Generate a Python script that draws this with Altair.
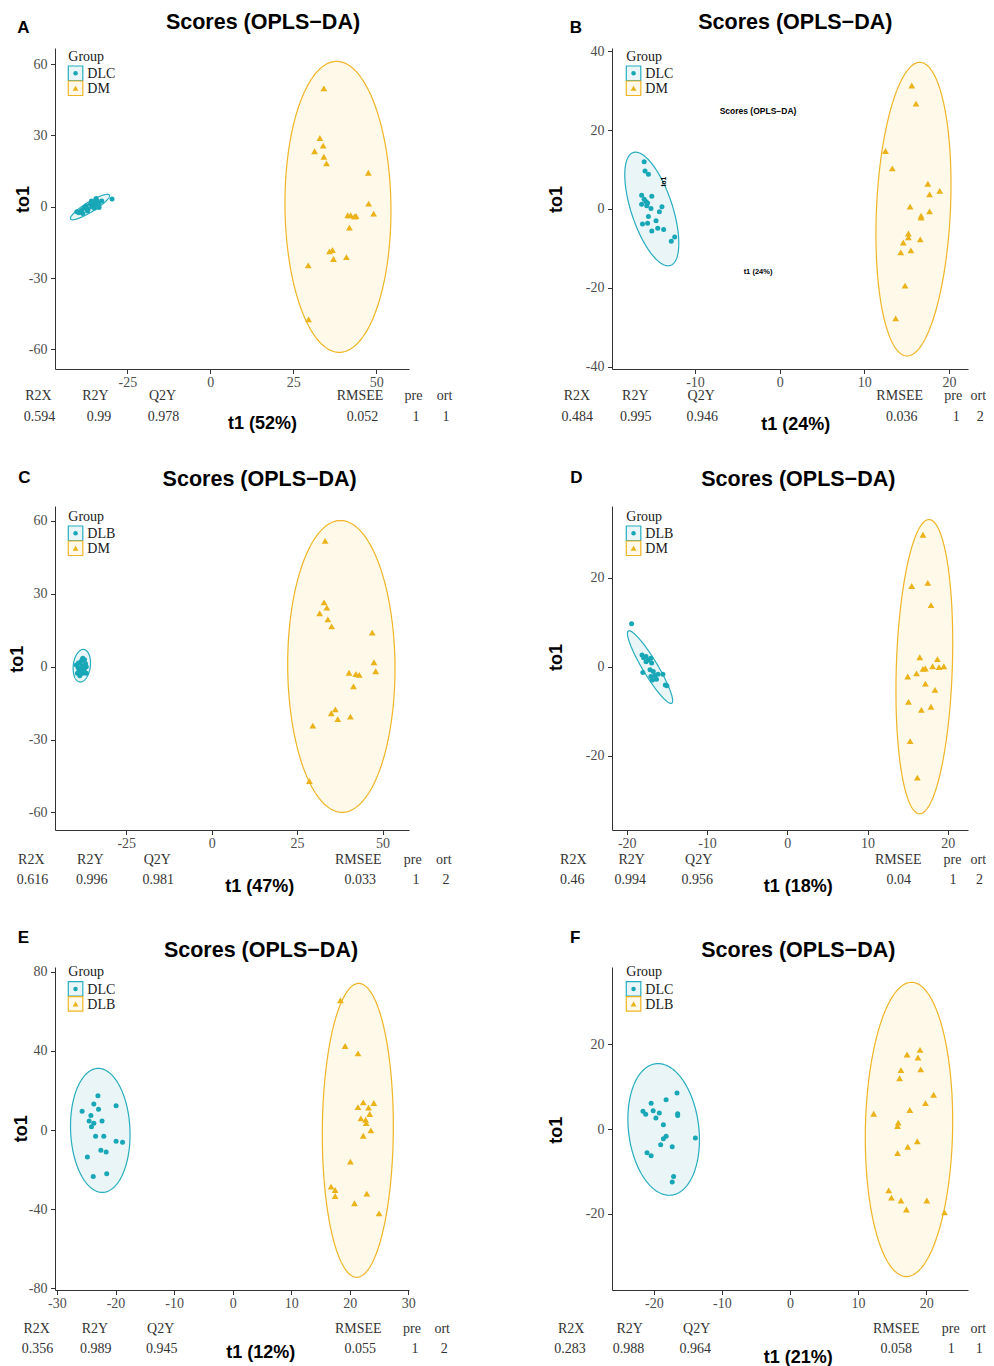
import numpy as np
import pandas as pd
import altair as alt

# ---------------------------------------------------------------- data
STAT_NAMES = ["R2X", "R2Y", "Q2Y", "RMSEE", "pre", "ort"]

# Panel A : DLC vs DM
A_GROUPS = ["DLC", "DM"]
A_G1_X = [-40.2, -39.6, -38.8, -38.4, -38.1, -37.4, -36.8, -36.1, -35.6, -35.1,
          -34.6, -34.4, -34.1, -33.5, -33.6, -32.7, -35.8, -34.9, -29.6, -37.0]
A_G1_Y = [-2.1, -2.6, -1.6, -2.9, -0.7, 0.4, -1.0, 1.0, 0.0, 1.8,
          0.7, 3.4, 2.5, -0.3, 1.4, 2.4, 2.4, -0.7, 3.2, -1.8]
A_G2_X = [34.2, 33.0, 34.0, 31.4, 34.2, 35.0, 47.6, 47.7, 49.2, 41.4,
          42.3, 43.4, 43.9, 41.9, 36.8, 35.9, 37.1, 41.0, 29.5, 29.6]
A_G2_Y = [49.8, 28.9, 25.7, 23.3, 21.0, 18.2, 14.3, 1.3, -2.9, -3.6,
          -3.6, -4.2, -3.9, -8.8, -18.2, -18.8, -22.0, -21.2, -24.7, -47.4]
A_STATS = ["0.594", "0.99", "0.978", "0.052", "1", "1"]
A_T1 = "t1 (52%)"
A_XTICKS = [-25, 0, 25, 50]
A_YTICKS = [-60, -30, 0, 30, 60]
A_XDOM = [-46.78, 59.85]
A_YDOM = [-68.28, 66.76]
A_ELL1 = [(-36.25, -0.15), (5.85, 5.05), (0.79, -1.79)]
A_ELL2 = [(38.45, -0.07), (-0.4, 61.2), (15.96, 0.0)]

# Panel B : DLC vs DM
B_GROUPS = ["DLC", "DM"]
B_G1_X = [-16.0, -15.9, -15.5, -16.3, -16.0, -15.8, -15.6, -16.3, -15.7, -15.2, -15.1,
          -13.9, -14.2, -15.5, -14.6, -16.2, -15.6, -15.1, -14.4, -13.7, -12.8, -12.4]
B_G1_Y = [12.0, 9.6, 8.8, 3.5, 2.5, 1.9, 1.5, 1.2, 0.8, 0.1, 3.2,
          0.6, -0.7, -1.9, -3.0, -3.8, -3.6, -5.6, -4.9, -5.2, -8.2, -7.1]
B_G2_X = [15.6, 16.1, 12.5, 13.3, 17.5, 18.9, 17.7, 15.4, 17.7, 16.7,
          16.7, 15.2, 15.2, 14.6, 16.6, 15.5, 14.3, 14.8, 13.7]
B_G2_Y = [31.3, 26.7, 14.7, 10.3, 6.4, 4.6, 3.7, 0.6, -0.6, -1.7,
          -2.2, -6.2, -7.2, -8.5, -7.7, -10.5, -11.0, -19.4, -27.7]
B_STATS = ["0.484", "0.995", "0.946", "0.036", "1", "2"]
B_T1 = "t1 (24%)"
B_XTICKS = [-10, 0, 10, 20]
B_YTICKS = [-40, -20, 0, 20, 40]
B_XDOM = [-19.80, 22.24]
B_YDOM = [-40.54, 40.79]
B_ELL1 = [(-15.1, 0.0), (-2.2, 14.3), (2.31, 1.65)]
B_ELL2 = [(15.8, -0.04), (0.75, 37.2), (4.37, 0.0)]

# Panel C : DLB vs DM
C_GROUPS = ["DLB", "DM"]
C_G1_X = [-37.7, -38.2, -37.2, -37.9, -39.1, -38.3, -37.2, -36.7, -37.7, -39.3,
          -38.6, -36.7, -39.6, -38.0, -38.8, -37.4, -39.0, -36.9, -38.4, -37.8]
C_G1_Y = [3.5, 2.1, 2.8, 3.0, -0.4, -0.9, -0.7, 0.0, -2.7, -2.7,
          -3.7, -2.7, 0.7, 0.4, -1.8, -1.6, 1.5, 1.2, -3.0, -0.2]
C_G2_X = [33.2, 32.9, 33.7, 31.6, 34.0, 35.1, 47.0, 47.5, 48.0, 40.2,
          42.2, 43.2, 41.5, 36.2, 35.0, 36.9, 40.6, 29.6, 28.6]
C_G2_Y = [51.8, 26.5, 24.3, 22.0, 19.5, 16.6, 14.0, 1.8, -1.9, -2.5,
          -3.0, -3.4, -8.1, -17.6, -19.2, -21.6, -20.6, -24.3, -47.1]
C_STATS = ["0.616", "0.996", "0.981", "0.033", "1", "2"]
C_T1 = "t1 (47%)"
C_XTICKS = [-25, 0, 25, 50]
C_YTICKS = [-60, -30, 0, 30, 60]
C_XDOM = [-45.85, 57.75]
C_YDOM = [-67.27, 66.17]
C_ELL1 = [(-38.0, 0.4), (0.5, 6.7), (2.5, -0.2)]
C_ELL2 = [(37.95, 0.1), (-0.25, 60.1), (15.7, 0.0)]

# Panel D : DLB vs DM
D_GROUPS = ["DLB", "DM"]
D_G1_X = [-19.4, -18.1, -17.9, -17.6, -17.3, -17.0, -17.6, -16.9, -18.0, -17.1,
          -16.7, -17.0, -16.5, -16.1, -15.5, -16.3, -15.2, -15.0, -16.8]
D_G1_Y = [9.6, 2.6, 2.0, 2.3, 1.5, 1.9, 1.1, 0.8, -1.3, -0.7,
          -1.1, -2.2, -2.0, -1.7, -1.7, -2.8, -4.1, -4.3, -3.0]
D_G2_X = [16.9, 15.5, 17.5, 17.9, 16.5, 18.7, 19.5, 18.1, 18.9, 16.9,
          17.2, 16.1, 15.0, 17.2, 18.4, 15.1, 16.7, 17.9, 15.3, 16.2]
D_G2_Y = [29.6, 18.1, 18.8, 13.8, 2.1, 1.7, 0.1, 0.1, -0.1, -0.5,
          -0.4, -1.5, -2.2, -3.8, -5.2, -7.9, -9.7, -9.0, -16.7, -24.9]
D_STATS = ["0.46", "0.994", "0.956", "0.04", "1", "2"]
D_T1 = "t1 (18%)"
D_XTICKS = [-20, -10, 0, 10, 20]
D_YTICKS = [-20, 0, 20]
D_XDOM = [-21.84, 22.51]
D_YDOM = [-36.64, 36.04]
D_ELL1 = [(-17.1, -0.1), (-2.7, 8.1), (0.80, 0.87)]
D_ELL2 = [(17.07, 0.0), (0.58, 33.0), (3.49, 0.0)]

# Panel E : DLC vs DLB
E_GROUPS = ["DLC", "DLB"]
E_G1_X = [-23.0, -23.7, -19.9, -22.9, -25.7, -24.2, -24.5, -23.7, -22.3, -24.1,
          -23.4, -22.0, -19.9, -18.8, -22.5, -21.6, -24.8, -23.8, -21.5]
E_G1_Y = [17.4, 13.2, 12.3, 10.5, 9.5, 7.3, 4.6, 3.4, 4.6, 1.7,
          -3.2, -3.2, -5.7, -6.2, -10.3, -11.1, -13.7, -23.6, -22.1]
E_G2_X = [18.4, 19.2, 21.4, 22.3, 24.1, 21.4, 23.2, 23.4, 21.9, 22.7,
          22.8, 23.6, 22.3, 20.1, 16.8, 17.5, 17.5, 22.9, 20.8, 25.0]
E_G2_Y = [65.7, 42.5, 38.8, 14.0, 13.7, 11.6, 11.3, 8.1, 5.9, 5.2,
          3.5, -0.2, -2.9, -16.0, -28.7, -30.4, -33.4, -32.2, -37.1, -42.2]
E_STATS = ["0.356", "0.989", "0.945", "0.055", "1", "2"]
E_T1 = "t1 (12%)"
E_XTICKS = [-30, -20, -10, 0, 10, 20, 30]
E_YTICKS = [-80, -40, 0, 40, 80]
E_XDOM = [-30.33, 30.11]
E_YDOM = [-81.01, 82.53]
E_ELL1 = [(-22.6, -0.2), (-0.34, 31.4), (5.07, 0.0)]
E_ELL2 = [(21.37, -0.17), (0.17, 74.4), (6.06, 0.0)]

# Panel F : DLC vs DLB
F_GROUPS = ["DLC", "DLB"]
F_G1_X = [-16.6, -18.2, -20.4, -21.6, -21.2, -20.1, -19.2, -19.7, -16.5, -16.5,
          -18.6, -18.2, -18.6, -19.0, -17.3, -13.9, -21.0, -20.4, -17.1, -17.3]
F_G1_Y = [8.5, 6.9, 6.1, 4.2, 3.5, 4.3, 3.8, 2.6, 3.6, 3.2,
          1.0, -1.7, -2.3, -3.7, -4.2, -2.1, -5.6, -6.3, -11.2, -12.5]
F_G2_X = [12.3, 17.2, 19.1, 18.8, 19.2, 16.3, 16.1, 21.1, 19.9, 17.6, 15.9,
          15.8, 18.7, 17.3, 15.8, 14.5, 14.9, 16.3, 20.1, 17.1, 22.7]
F_G2_Y = [3.6, 17.6, 18.7, 16.9, 14.1, 13.9, 12.0, 8.1, 6.1, 4.5, 1.5,
          0.7, -2.9, -4.2, -5.7, -14.5, -16.2, -16.9, -16.9, -19.0, -19.7]
F_STATS = ["0.283", "0.988", "0.964", "0.058", "1", "1"]
F_T1 = "t1 (21%)"
F_XTICKS = [-20, -10, 0, 10, 20]
F_YTICKS = [-20, 0, 20]
F_XDOM = [-26.15, 26.15]
F_YDOM = [-38.03, 38.27]
F_ELL1 = [(-18.56, -0.1), (-0.83, 15.55), (5.19, 0.0)]
F_ELL2 = [(17.48, -0.1), (0.37, 34.76), (6.41, 0.0)]

# ---------------------------------------------------------------- style
TEAL = "#17A7B7"
GOLD = "#EBB21A"
TEAL_LINE = "#26ADBE"
GOLD_LINE = "#F0B526"
TEAL_FILL = "#E9F5F7"
GOLD_FILL = "#FEF9E8"
SERIF = "Liberation Serif"
SANS = "Liberation Sans"
INK = "#1a1a1a"

ONE = pd.DataFrame({"k": [0]})

COL_W = [354, 356]
ROW_H = [321, 324, 323]
LEFT0, TOP0 = 55, 48
COL_GAP, ROW_GAP = 203, 137

PANELS = [
    dict(groups=A_GROUPS, g1=(A_G1_X, A_G1_Y), g2=(A_G2_X, A_G2_Y), stats=A_STATS, t1=A_T1,
         xt=A_XTICKS, yt=A_YTICKS, xd=A_XDOM, yd=A_YDOM, e1=A_ELL1, e2=A_ELL2,
         letter="A", pl=(23.5, 33), title=(263, 29.3),
         to1=(29, 199.5), t1pos=(262.5, 429.3), leg=(68.3, 66), lab_y=400, val_y=420.5,
         lab_x=[38.5, 95.5, 162.5, 360, 413.5, 444.5], val_x=[39.5, 99, 163.5, 362.5, 416, 446]),
    dict(groups=B_GROUPS, g1=(B_G1_X, B_G1_Y), g2=(B_G2_X, B_G2_Y), stats=B_STATS, t1=B_T1,
         xt=B_XTICKS, yt=B_YTICKS, xd=B_XDOM, yd=B_YDOM, e1=B_ELL1, e2=B_ELL2,
         letter="B", pl=(576, 33), title=(795.3, 29.3),
         to1=(562, 199.5), t1pos=(795.8, 430), leg=(626.3, 66), lab_y=400, val_y=420.5,
         lab_x=[577, 635.3, 701.2, 899.7, 953.3, 978.3], val_x=[577.2, 635.7, 702.2, 901.7, 956.3, 980.3]),
    dict(groups=C_GROUPS, g1=(C_G1_X, C_G1_Y), g2=(C_G2_X, C_G2_Y), stats=C_STATS, t1=C_T1,
         xt=C_XTICKS, yt=C_YTICKS, xd=C_XDOM, yd=C_YDOM, e1=C_ELL1, e2=C_ELL2,
         letter="C", pl=(24.5, 482.7), title=(259.7, 485.7),
         to1=(23.0, 659.2), t1pos=(259.7, 892.3), leg=(68.3, 526), lab_y=864.3, val_y=884.3,
         lab_x=[31.3, 90.3, 157.3, 358.3, 412.8, 443.8], val_x=[32.5, 91.7, 158.3, 360.2, 416, 446]),
    dict(groups=D_GROUPS, g1=(D_G1_X, D_G1_Y), g2=(D_G2_X, D_G2_Y), stats=D_STATS, t1=D_T1,
         xt=D_XTICKS, yt=D_YTICKS, xd=D_XDOM, yd=D_YDOM, e1=D_ELL1, e2=D_ELL2,
         letter="D", pl=(576.5, 482.7), title=(798.3, 485.7),
         to1=(562, 657.5), t1pos=(798.2, 892.3), leg=(626.3, 526), lab_y=864.3, val_y=884.3,
         lab_x=[573.3, 631.7, 698.7, 898.3, 952.5, 978.3], val_x=[572.3, 630.3, 697.2, 898.7, 953, 979.5]),
    dict(groups=E_GROUPS, g1=(E_G1_X, E_G1_Y), g2=(E_G2_X, E_G2_Y), stats=E_STATS, t1=E_T1,
         xt=E_XTICKS, yt=E_YTICKS, xd=E_XDOM, yd=E_YDOM, e1=E_ELL1, e2=E_ELL2,
         letter="E", pl=(23.3, 943.3), title=(261, 957.3),
         to1=(27.3, 1128.7), t1pos=(260.8, 1357.7), leg=(68.3, 981.7), lab_y=1332.7, val_y=1352.7,
         lab_x=[36.7, 95, 160.7, 358.3, 412, 442.2], val_x=[37.5, 95.8, 161.7, 360.2, 415, 444.3]),
    dict(groups=F_GROUPS, g1=(F_G1_X, F_G1_Y), g2=(F_G2_X, F_G2_Y), stats=F_STATS, t1=F_T1,
         xt=F_XTICKS, yt=F_YTICKS, xd=F_XDOM, yd=F_YDOM, e1=F_ELL1, e2=F_ELL2,
         letter="F", pl=(575.3, 943.3), title=(798.3, 957.3),
         to1=(562, 1130.3), t1pos=(798.2, 1362.7), leg=(626.3, 981.7), lab_y=1332.7, val_y=1352.7,
         lab_x=[571.2, 629.7, 696.7, 896.3, 950.8, 978.3], val_x=[570, 628.5, 695.3, 896.2, 951.3, 979.3]),
]

LABEL_EXPR = "datum.value < 0 ? '-' + toString(-datum.value) : toString(datum.value)"


def make_axis(vals, pad):
    return alt.Axis(values=vals, grid=False, title=None, labelFont=SERIF, labelFontSize=14,
                    labelColor="#4D4D4D", tickColor="#333333", domainColor="#333333",
                    tickSize=4.5, tickWidth=1, domainWidth=1, labelPadding=pad,
                    labelFlush=False, labelOverlap=False, labelExpr=LABEL_EXPR)


def ellipse_frames(ell):
    (cx, cy), (ax, ay), (bx, by) = ell
    t = np.linspace(0, 2 * np.pi, 241)
    outline = pd.DataFrame({"x": cx + ax * np.cos(t) + bx * np.sin(t),
                            "y": cy + ay * np.cos(t) + by * np.sin(t),
                            "o": np.arange(t.size)})
    r = np.hypot(ax, bx)
    phi = np.arctan2(bx, ax)
    s = np.linspace(0, np.pi, 181)
    xs = cx + r * np.cos(s)
    ya = cy + ay * np.cos(phi + s) + by * np.sin(phi + s)
    yb = cy + ay * np.cos(phi - s) + by * np.sin(phi - s)
    area = pd.DataFrame({"x": xs, "y1": np.minimum(ya, yb), "y2": np.maximum(ya, yb)})
    return outline, area


def txt(s, x, y, size, font=SERIF, weight="normal", align="center", angle=0, color=INK):
    return alt.Chart(ONE).mark_text(text=s, font=font, fontSize=size, fontWeight=weight,
                                    align=align, baseline="alphabetic", angle=angle,
                                    color=color).encode(x=alt.value(x), y=alt.value(y))


def build_panel(P, idx):
    col, row = idx % 2, idx // 2
    w, h = COL_W[col], ROW_H[row]
    ox = LEFT0 + (0 if col == 0 else COL_W[0] + COL_GAP)
    oy = TOP0 + sum(ROW_H[:row]) + ROW_GAP * row
    sx = alt.Scale(domain=P["xd"], nice=False, zero=False)
    sy = alt.Scale(domain=P["yd"], nice=False, zero=False)
    axx = make_axis(P["xt"], 2.0)
    axy = make_axis(P["yt"], 3.5)
    layers = []
    frames = [ellipse_frames(P["e1"]), ellipse_frames(P["e2"])]
    for (outline, area), fill in zip(frames, [TEAL_FILL, GOLD_FILL]):
        layers.append(alt.Chart(area).mark_area(orient="vertical", color=fill, opacity=1).encode(
            x=alt.X("x:Q", scale=sx, axis=axx),
            y=alt.Y("y1:Q", scale=sy, axis=axy),
            y2="y2:Q"))
    for (outline, area), colr in zip(frames, [TEAL_LINE, GOLD_LINE]):
        layers.append(alt.Chart(outline).mark_line(color=colr, strokeWidth=1.2).encode(
            x=alt.X("x:Q", scale=sx, axis=axx),
            y=alt.Y("y:Q", scale=sy, axis=axy),
            order="o:Q"))
    for (gx, gy), colr, shape, size in [(P["g1"], TEAL, "circle", 25),
                                        (P["g2"], GOLD, "triangle-up", 46)]:
        df = pd.DataFrame({"x": gx, "y": gy})
        layers.append(alt.Chart(df).mark_point(shape=shape, filled=True, size=size, color=colr,
                                               opacity=1, strokeWidth=0).encode(
            x=alt.X("x:Q", scale=sx, axis=axx),
            y=alt.Y("y:Q", scale=sy, axis=axy)))

    # legend
    lx, ly = P["leg"][0] - ox, P["leg"][1] - oy
    layers.append(txt("Group", lx, ly - 5.5, 14, align="left"))
    for i, (name, stroke, fill, colr, shape, size) in enumerate([
            (P["groups"][0], TEAL_LINE, TEAL_FILL, TEAL, "circle", 20),
            (P["groups"][1], GOLD_LINE, GOLD_FILL, GOLD, "triangle-up", 34)]):
        y0 = ly + 15 * i
        layers.append(alt.Chart(ONE).mark_rect(fill=fill, stroke=stroke, strokeWidth=1.2).encode(
            x=alt.value(lx), x2=alt.value(lx + 14.5), y=alt.value(y0), y2=alt.value(y0 + 14.5)))
        layers.append(alt.Chart(ONE).mark_point(shape=shape, filled=True, size=size, color=colr,
                                                opacity=1, strokeWidth=0).encode(
            x=alt.value(lx + 7.25), y=alt.value(y0 + 7.25)))
        layers.append(txt(name, lx + 19, y0 + 12, 14, align="left"))

    # stats table
    for name, xx in zip(STAT_NAMES, P["lab_x"]):
        layers.append(txt(name, xx - ox, P["lab_y"] - oy, 14, color="#333333"))
    for val, xx in zip(P["stats"], P["val_x"]):
        layers.append(txt(val, xx - ox, P["val_y"] - oy, 14, color="#333333"))

    # titles
    layers.append(txt(P["letter"], P["pl"][0] - ox, P["pl"][1] - oy, 17, SANS, "bold", color="#000000"))
    layers.append(txt("Scores (OPLS\u2212DA)", P["title"][0] - ox, P["title"][1] - oy, 21.5, SANS,
                      "bold", color="#000000"))
    layers.append(txt(P["t1"], P["t1pos"][0] - ox, P["t1pos"][1] - oy, 18, SANS, "bold",
                      color="#000000"))
    layers.append(txt("to1", P["to1"][0] - ox, P["to1"][1] - oy, 18, SANS, "bold", angle=270,
                      color="#000000"))

    if P["letter"] == "B":
        layers.append(txt("Scores (OPLS\u2212DA)", 758 - ox, 113.5 - oy, 8.5, SANS, "bold",
                          color="#000000"))
        layers.append(txt("t1 (24%)", 758 - ox, 273.5 - oy, 7.5, SANS, "bold", color="#000000"))
        layers.append(txt("to1", 666 - ox, 181.7 - oy, 6.5, SANS, "bold", angle=270,
                          color="#000000"))

    return alt.layer(*layers).properties(width=w, height=h)


panels = [build_panel(P, i) for i, P in enumerate(PANELS)]

# svg size kept inside the 994 px page (8 px body margin on each side)
SVG_W, SVG_H = 978, 1358
chart = alt.concat(*panels, columns=2, spacing={"row": ROW_GAP, "column": COL_GAP},
                   bounds="flush").resolve_scale(
    x="independent", y="independent").properties(
    autosize=alt.AutoSizeParams(type="none"),
    padding={"left": LEFT0 - 8, "top": TOP0 - 8,
             "right": SVG_W - (LEFT0 - 8), "bottom": SVG_H - (TOP0 - 8)}
).configure_view(stroke=None)

chart.save("out.html", embed_options={"renderer": "svg", "actions": False})
